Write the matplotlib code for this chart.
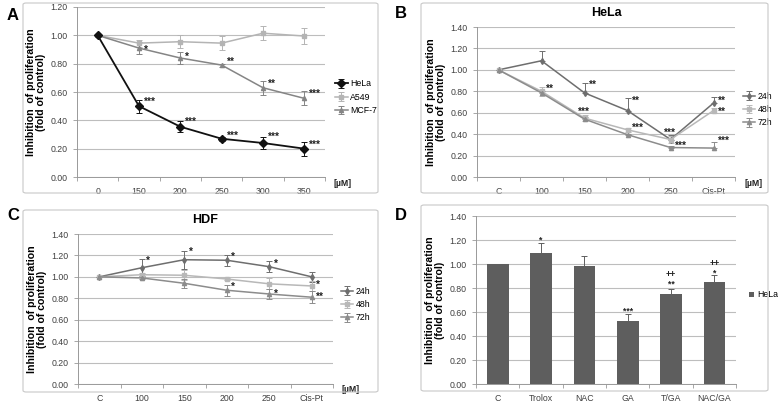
import matplotlib
matplotlib.use("Agg")
import matplotlib.pyplot as plt
from matplotlib.patches import FancyBboxPatch
import numpy as np

plt.rcParams['font.family'] = ['Liberation Sans', 'DejaVu Sans']

# ---------------- data ----------------
a_cats = ["0", "150", "200", "250", "300", "350"]
a_hela = [1.00, 0.50, 0.355, 0.27, 0.24, 0.20]
a_hela_err = [0.0, 0.045, 0.04, 0.015, 0.045, 0.05]
a_a549 = [1.00, 0.945, 0.955, 0.945, 1.015, 0.995]
a_a549_err = [0.01, 0.025, 0.045, 0.05, 0.05, 0.055]
a_mcf7 = [1.00, 0.91, 0.84, 0.79, 0.63, 0.555]
a_mcf7_err = [0.01, 0.045, 0.04, 0.01, 0.05, 0.05]
a_marks = [(1, 0.90, "*"), (2, 0.85, "*"), (3, 0.81, "**"), (4, 0.66, "**"), (5, 0.59, "***"),
           (1, 0.53, "***"), (2, 0.39, "***"), (3, 0.29, "***"), (4, 0.28, "***"), (5, 0.23, "***")]

bc_cats = ["C", "100", "150", "200", "250", "Cis-Pt"]
b_24 = [1.00, 1.085, 0.785, 0.62, 0.35, 0.69]
b_24_err = [0.0, 0.095, 0.09, 0.115, 0.04, 0.055]
b_48 = [1.00, 0.80, 0.55, 0.44, 0.35, 0.62]
b_48_err = [0.0, 0.04, 0.03, 0.02, 0.03, 0.02]
b_72 = [1.00, 0.785, 0.54, 0.395, 0.275, 0.27]
b_72_err = [0.0, 0.02, 0.02, 0.01, 0.01, 0.055]
b_marks = [(1, 0.82, "**"), (2, 0.86, "**"), (3, 0.71, "**"), (1.75, 0.61, "***"), (3, 0.46, "***"),
           (3.75, 0.41, "***"), (4, 0.29, "***"), (5, 0.71, "**"), (5, 0.61, "**"), (5, 0.34, "***")]

c_24 = [1.00, 1.085, 1.16, 1.155, 1.095, 1.00]
c_24_err = [0.0, 0.08, 0.085, 0.05, 0.05, 0.05]
c_48 = [1.00, 1.02, 1.015, 0.98, 0.935, 0.915]
c_48_err = [0.0, 0.02, 0.045, 0.01, 0.05, 0.05]
c_72 = [1.00, 0.99, 0.94, 0.875, 0.84, 0.81]
c_72_err = [0.0, 0.01, 0.04, 0.05, 0.05, 0.055]
c_marks = [(1, 1.15, "*"), (2, 1.23, "*"), (3, 1.19, "*"), (4, 1.12, "*"), (5, 0.93, "*"),
           (3, 0.91, "*"), (4, 0.84, "*"), (5, 0.81, "**")]

d_cats = ["C", "Trolox", "NAC", "GA", "T/GA", "NAC/GA"]
d_vals = [1.00, 1.095, 0.98, 0.525, 0.75, 0.85]
d_err = [0.0, 0.08, 0.09, 0.055, 0.045, 0.055]
d_marks = [(1, 1.20, "*"), (3, 0.61, "***"), (4, 0.835, "**"), (4, 0.915, "++"), (5, 0.925, "*"), (5, 1.005, "++")]

# ---------------- figure ----------------
W, H = 778, 403
fig = plt.figure(figsize=(W / 100, H / 100), dpi=100)

def px_rect(l, t, r, b):
    return [l / W, 1 - b / H, (r - l) / W, (b - t) / H]

def border(l, t, r, b):
    p = FancyBboxPatch((l / W, 1 - b / H), (r - l) / W, (b - t) / H,
                       boxstyle="round,pad=0,rounding_size=0.004", transform=fig.transFigure,
                       fill=False, edgecolor="#c8c8c8", linewidth=0.8)
    fig.patches.append(p)

border(23, 3, 378, 193)
border(421, 3, 768, 193)
border(23, 210, 378, 392)
border(421, 205, 768, 391)

tick_col = "#404040"
lab_fs = 6.3
star_fs = 7.2

def style_ax(ax, cats, ymax, umol=True):
    n = len(cats)
    ax.set_xlim(-0.5, n - 0.5)
    ax.set_ylim(0, ymax)
    ax.set_yticks(np.arange(0, ymax + 0.001, 0.2))
    ax.set_yticklabels([f"{v:.2f}" for v in np.arange(0, ymax + 0.001, 0.2)], fontsize=lab_fs, color=tick_col)
    ax.set_xticks(range(n))
    ax.set_xticklabels(cats, fontsize=lab_fs, color=tick_col)
    ax.set_xticks(np.arange(-0.5, n, 1.0), minor=True)
    ax.tick_params(axis='x', which='major', length=0, pad=7)
    ax.tick_params(axis='x', which='minor', length=3, color="#999999", width=0.6)
    ax.tick_params(axis='y', length=3, color="#999999", width=0.6, pad=4)
    ax.grid(axis='y', color="#bdbdbd", linewidth=0.8)
    ax.set_axisbelow(True)
    for s in ['top', 'right']:
        ax.spines[s].set_visible(False)
    for s in ['left', 'bottom']:
        ax.spines[s].set_color("#999999")
        ax.spines[s].set_linewidth(0.7)
    ax.set_ylabel("Inhibition  of proliferation\n(fold of control)", fontsize=7.6,
                  fontweight='bold', labelpad=3, linespacing=1.05)
    if umol:
        ax.text(1.035, -0.01, "[\u00b5M]", transform=ax.transAxes, fontsize=lab_fs,
                fontweight='bold', va='top', ha='left', color="#222222")

def marks(ax, lst, dx=0.1):
    for x, y, s in lst:
        ax.text(x + dx, y, s, fontsize=star_fs, fontweight='bold', color="#222222", ha='left', va='center')

# ---------- A ----------
axA = fig.add_axes(px_rect(77, 7, 325, 177))
style_ax(axA, a_cats, 1.2)
x = np.arange(6)
ekw = dict(capsize=2, elinewidth=0.7, capthick=0.7)
axA.errorbar(x, a_a549, yerr=a_a549_err, color="#b4b4b4", marker='s', ms=3.5, lw=1.1, label="A549", **ekw)
axA.errorbar(x, a_mcf7, yerr=a_mcf7_err, color="#858585", marker='^', ms=3, lw=1.1, label="MCF-7", **ekw)
axA.errorbar(x, a_hela, yerr=a_hela_err, color="#111111", marker='D', ms=4, lw=1.3, label="HeLa", **ekw)
marks(axA, a_marks, dx=0.12)
h, l = axA.get_legend_handles_labels()
order = [2, 0, 1]
axA.legend([h[i] for i in order], [l[i] for i in order], loc='center left', bbox_to_anchor=(1.01, 0.47),
           frameon=False, fontsize=lab_fs, handlelength=1.4, handletextpad=0.3, labelspacing=0.5)
fig.text(7 / W, 1 - 15 / H, "A", fontsize=12, fontweight='bold', va='center', ha='left')

# ---------- B ----------
axB = fig.add_axes(px_rect(477, 27, 735, 177))
style_ax(axB, bc_cats, 1.4)
zeros = [0] * 6
axB.errorbar(x, b_24, yerr=[zeros, b_24_err], color="#6e6e6e", marker='d', ms=3, lw=1.1, label="24h", **ekw)
axB.errorbar(x, b_48, yerr=b_48_err, color="#b8b8b8", marker='s', ms=3.5, lw=1.1, label="48h", **ekw)
axB.errorbar(x, b_72, yerr=[zeros, b_72_err], color="#8c8c8c", marker='^', ms=3, lw=1.1, label="72h", **ekw)
marks(axB, b_marks, dx=0.1)
axB.set_title("HeLa", fontsize=9, fontweight='bold', pad=8)
axB.legend(loc='center left', bbox_to_anchor=(1.0, 0.45), frameon=False, fontsize=lab_fs,
           handlelength=1.4, handletextpad=0.3, labelspacing=0.5)
fig.text(395 / W, 1 - 13 / H, "B", fontsize=12, fontweight='bold', va='center', ha='left')

# ---------- C ----------
axC = fig.add_axes(px_rect(78, 234, 333, 384))
style_ax(axC, bc_cats, 1.4)
axC.errorbar(x, c_24, yerr=c_24_err, color="#6e6e6e", marker='d', ms=3, lw=1.1, label="24h", **ekw)
axC.errorbar(x, c_48, yerr=c_48_err, color="#b8b8b8", marker='s', ms=3.5, lw=1.1, label="48h", **ekw)
axC.errorbar(x, c_72, yerr=c_72_err, color="#8c8c8c", marker='^', ms=3, lw=1.1, label="72h", **ekw)
marks(axC, c_marks, dx=0.1)
axC.set_title("HDF", fontsize=9, fontweight='bold', pad=8)
axC.legend(loc='center left', bbox_to_anchor=(1.0, 0.53), frameon=False, fontsize=lab_fs,
           handlelength=1.4, handletextpad=0.3, labelspacing=0.5)
fig.text(7 / W, 1 - 215 / H, "C", fontsize=12, fontweight='bold', va='center', ha='left')

# ---------- D ----------
axD = fig.add_axes(px_rect(476, 216, 736, 384))
style_ax(axD, d_cats, 1.4, umol=False)
axD.bar(x, d_vals, width=0.5, color="#5e5e5e", label="HeLa", zorder=2)
axD.errorbar(x, d_vals, yerr=[zeros, d_err], fmt='none', ecolor="#5e5e5e", zorder=3, **ekw)
for xx, y, s in d_marks:
    axD.text(xx, y, s, fontsize=6.2, fontweight='bold', color="#222222", ha='center', va='center')
axD.legend(loc='center left', bbox_to_anchor=(1.02, 0.53), frameon=False, fontsize=lab_fs,
           handlelength=0.6, handleheight=0.6, handletextpad=0.3)
fig.text(395 / W, 1 - 215 / H, "D", fontsize=12, fontweight='bold', va='center', ha='left')

fig.savefig("out.png", dpi=100)
